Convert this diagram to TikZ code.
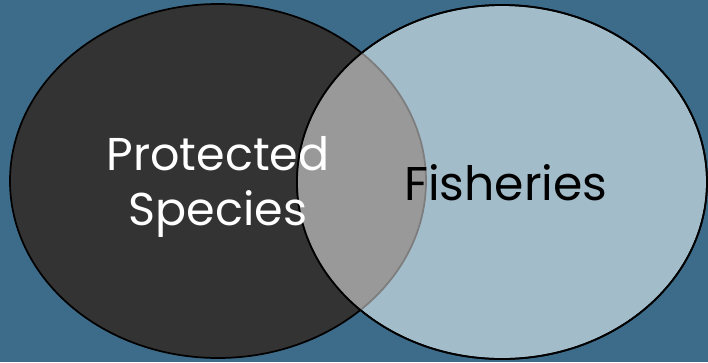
\documentclass[tikz,border=0pt]{standalone}
\usepackage{fontspec}
\setmainfont{Poppins}
\usepackage{tikz}
\definecolor{bgblue}{RGB}{61,108,139}
\definecolor{darkset}{RGB}{51,51,51}
\definecolor{lightset}{RGB}{163,188,202}
\definecolor{overlap}{RGB}{153,153,153}
\definecolor{overlapline}{RGB}{125,125,125}

\begin{document}
\begin{tikzpicture}[x=0.75pt,y=-0.75pt,
   setline/.style={line width=1.3pt},
   lbl/.style={anchor=base,inner sep=0pt}]
   \useasboundingbox (0,0) rectangle (708,362);
   \fill[bgblue] (0,0) rectangle (708,362);
   \coordinate (PS) at (218,181);
   \coordinate (FI) at (502,182);
   \draw[setline,fill=darkset] (PS) ellipse [x radius=208,y radius=177];
   \draw[setline,fill=lightset] (FI) ellipse [x radius=205,y radius=177];
   \begin{scope}
     \clip (FI) ellipse [x radius=205,y radius=177];
     \fill[overlap] (PS) ellipse [x radius=208,y radius=177];
     \draw[setline,overlapline] (PS) ellipse [x radius=208,y radius=177];
   \end{scope}
   \draw[setline] (FI) ellipse [x radius=205,y radius=177];
   \node[lbl,white,font=\fontsize{34.5}{40}\selectfont] (prot) at (218,170) {Protected};
   \node[lbl,white,font=\fontsize{34.5}{40}\selectfont] (spec) at (218,225) {Species};
   \node[lbl,black,font=\fontsize{35.5}{44}\selectfont] (fish) at (506,200) {Fisheries};
\end{tikzpicture}
\end{document}
